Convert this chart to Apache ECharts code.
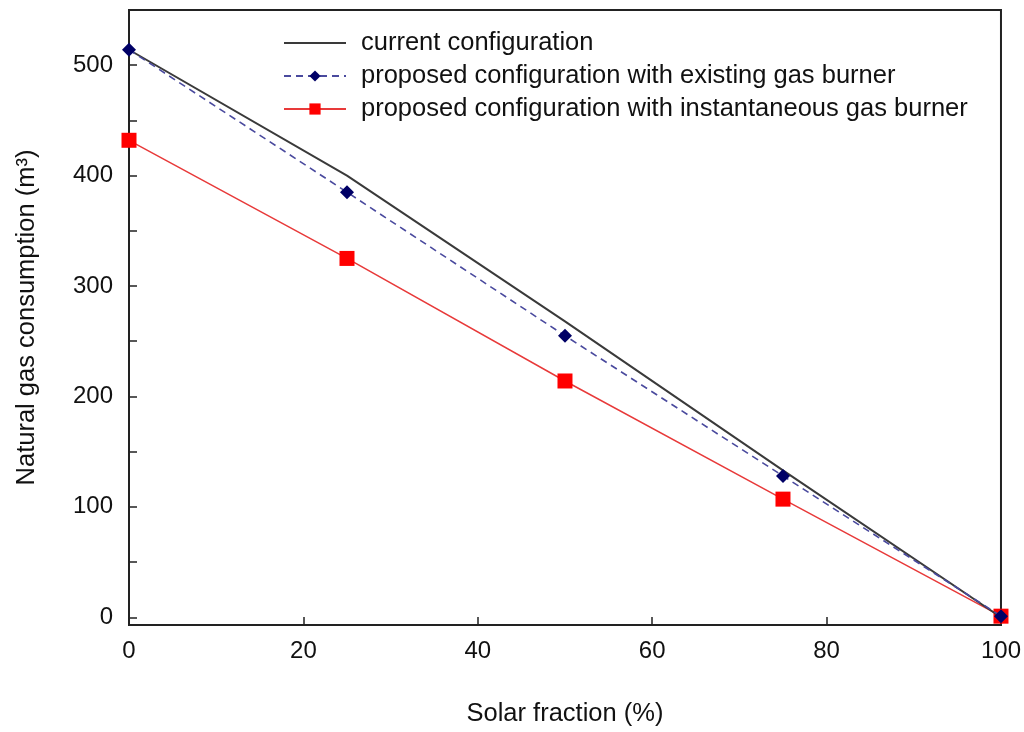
<!DOCTYPE html>
<html>
<head>
<meta charset="utf-8">
<script src="https://cdn.jsdelivr.net/npm/echarts@6/dist/echarts.min.js"></script>
<style>
html,body{margin:0;padding:0;background:#fff;}
#chart{width:1024px;height:732px;}
</style>
</head>
<body>
<div id="chart"></div>
<script>
var solarFraction = [0, 25, 50, 75, 100];
var currentConfig = [514, 400, 268, 133, 0];
var proposedExisting = [514, 385, 255, 128, 1];
var proposedInstant = [432, 325, 214, 107, 1];
var yTickValues = [0, 50, 100, 150, 200, 250, 300, 350, 400, 450, 500, 550];
var yLabelValues = [0, 100, 200, 300, 400, 500];
var seriesNames = [
  'current configuration',
  'proposed configuration with existing gas burner',
  'proposed configuration with instantaneous gas burner'
];

function pairs(xs, ys) { return xs.map(function (x, i) { return [x, ys[i]]; }); }

var FONT = 'Liberation Sans';
var chart = echarts.init(document.getElementById('chart'));
chart.setOption({
  animation: false,
  backgroundColor: '#fff',
  textStyle: { fontFamily: FONT },
  grid: {
    left: 129, right: 22, top: 10, bottom: 107,
    show: true, borderColor: '#222', borderWidth: 2, backgroundColor: 'transparent'
  },
  legend: {
    orient: 'vertical',
    left: 283, top: 30, padding: 0,
    itemWidth: 62, itemHeight: 14, itemGap: 7,
    textStyle: { fontSize: 25.5, color: '#111', fontFamily: FONT, padding: [0, 0, 0, 10] },
    data: [
      { name: seriesNames[0], itemStyle: { opacity: 0 } },
      { name: seriesNames[1] },
      { name: seriesNames[2] }
    ]
  },
  xAxis: {
    type: 'value', min: 0, max: 100, interval: 20,
    name: 'Solar fraction (%)', nameLocation: 'middle', nameGap: 76,
    nameTextStyle: { fontSize: 25.5, color: '#111', fontFamily: FONT },
    axisLine: { show: true, onZero: false, lineStyle: { color: '#222', width: 2 } },
    axisTick: { show: true, inside: true, length: 8, lineStyle: { color: '#222', width: 1.5 } },
    axisLabel: { fontSize: 24, color: '#111', margin: 14, fontFamily: FONT },
    splitLine: { show: false }
  },
  yAxis: {
    type: 'value', min: -7, max: 550,
    name: 'Natural gas consumption (m³)', nameLocation: 'middle', nameGap: 89,
    nameTextStyle: { fontSize: 25.5, color: '#111', fontFamily: FONT },
    axisLine: { show: true, onZero: false, lineStyle: { color: '#222', width: 2 } },
    axisTick: { show: true, inside: true, length: 8, customValues: yTickValues, lineStyle: { color: '#222', width: 1.5 } },
    axisLabel: { fontSize: 24, color: '#111', margin: 16, customValues: yLabelValues, fontFamily: FONT },
    splitLine: { show: false }
  },
  series: [
    {
      name: seriesNames[0], type: 'line', data: pairs(solarFraction, currentConfig),
      showSymbol: false, symbol: 'none',
      lineStyle: { color: '#3a3a3a', width: 2 }, itemStyle: { color: '#3a3a3a' }, z: 3
    },
    {
      name: seriesNames[1], type: 'line', data: pairs(solarFraction, proposedExisting),
      symbol: 'diamond', symbolSize: 14,
      lineStyle: { color: '#4a4a9e', width: 1.6, type: [7, 5] },
      itemStyle: { color: '#000066' }, z: 4
    },
    {
      name: seriesNames[2], type: 'line', data: pairs(solarFraction, proposedInstant),
      symbol: 'rect', symbolSize: 15,
      lineStyle: { color: '#e83a3a', width: 1.5 },
      itemStyle: { color: '#ff0000' }, z: 2
    }
  ]
});
</script>
</body>
</html>
